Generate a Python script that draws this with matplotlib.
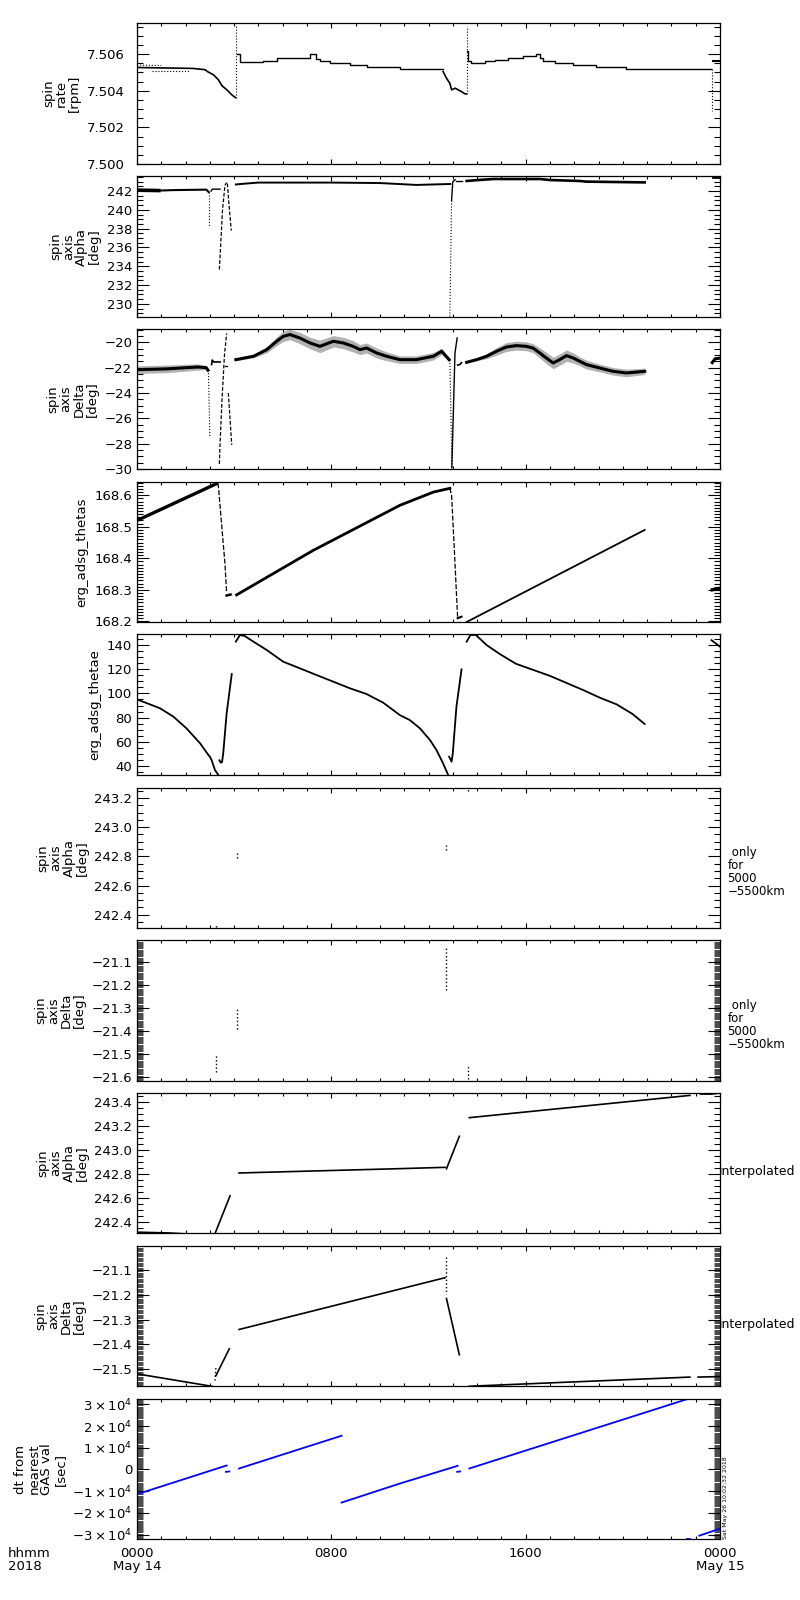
import matplotlib

matplotlib.use("Agg")
import matplotlib.pyplot as plt
from matplotlib.ticker import AutoMinorLocator, FuncFormatter, MultipleLocator


FIG_W_PX = 800
FIG_H_PX = 1600
AX_LEFT_PX = 137
AX_RIGHT_PX = 720
PANEL_EDGES_PX = [
    (23, 164), (176, 317), (329, 469), (482, 622), (634, 775),
    (788, 928), (940, 1081), (1093, 1233), (1246, 1386), (1399, 1539),
]
BLUE = "#0000ff"

# x values are hours after 0000 May 14

# ---- spin rate [rpm]
RATE_A_H = [0.0, 2.3, 2.8, 2.9, 3.15, 3.35, 3.5, 3.7, 3.9, 4.05]
RATE_A_V = [7.50527, 7.50522, 7.50515, 7.50505, 7.50487, 7.50460, 7.50427,
            7.50405, 7.50378, 7.50363]
RATE_A2_H = [0.0, 1.0]
RATE_A2_V = [7.50540, 7.50538]
RATE_A3_H = [0.6, 2.2]
RATE_A3_V = [7.50510, 7.50510]
RATE_SPIKE1_H = [4.08, 4.08]
RATE_SPIKE1_V = [7.50363, 7.50755]
RATE_B_H = [4.12, 4.24, 5.2, 5.75, 7.12, 7.35, 7.53, 7.94, 8.77, 9.45, 10.82, 12.6]
RATE_B_V = [7.50600, 7.50557, 7.50564, 7.50578, 7.50600, 7.50575, 7.50560,
            7.50551, 7.50540, 7.50527, 7.50518, 7.50518]
RATE_C_H = [12.6, 12.74, 12.88, 12.95, 13.1, 13.35, 13.5, 13.55]
RATE_C_V = [7.50505, 7.50469, 7.50440, 7.50405, 7.50414, 7.50396, 7.50383, 7.50383]
RATE_SPIKE2_H = [13.57, 13.57]
RATE_SPIKE2_V = [7.50383, 7.50755]
RATE_D_H = [13.6, 13.63, 13.77, 14.32, 14.73, 15.28, 15.87, 16.42, 16.59, 16.72,
            17.2, 17.96, 18.88, 20.11, 23.65]
RATE_D_V = [7.50615, 7.50564, 7.50551, 7.50562, 7.50568, 7.50578, 7.50589,
            7.50602, 7.50580, 7.50564, 7.50551, 7.50540, 7.50529, 7.50518, 7.50518]
RATE_DIP_H = [23.68, 23.68]
RATE_DIP_V = [7.50518, 7.50290]
RATE_E_H = [23.72, 24.0]
RATE_E_V = [7.50564, 7.50564]

# ---- spin axis Alpha [deg]
ALPHA_A_H = [0.0, 0.9, 1.5, 2.85, 2.95]
ALPHA_A_V = [242.1, 242.05, 242.1, 242.15, 241.9]
ALPHA_DIP1_H = [2.98, 2.98]
ALPHA_DIP1_V = [241.9, 238.2]
ALPHA_B_H = [3.05, 3.1, 3.42]
ALPHA_B_V = [242.0, 242.2, 242.2]
ALPHA_DIP2_H = [3.39, 3.44, 3.52, 3.62, 3.68]
ALPHA_DIP2_V = [233.65, 236.0, 240.0, 242.6, 242.9]
ALPHA_DROP_H = [3.72, 3.78, 3.88]
ALPHA_DROP_V = [242.8, 240.8, 237.8]
ALPHA_C_H = [4.07, 4.5, 5.0, 8.0, 10.0, 11.5, 12.9]
ALPHA_C_V = [242.7, 242.8, 242.9, 242.9, 242.85, 242.65, 242.75]
ALPHA_DIP3_H = [12.88, 12.95]
ALPHA_DIP3_V = [228.65, 241.0]
ALPHA_RISE_H = [12.95, 13.0, 13.1]
ALPHA_RISE_V = [241.0, 243.0, 243.2]
ALPHA_D_H = [13.15, 13.36]
ALPHA_D_V = [243.07, 243.07]
ALPHA_E_H = [13.57, 14.05, 14.66, 16.6, 17.0, 18.23, 18.5, 20.9]
ALPHA_E_V = [243.07, 243.17, 243.28, 243.28, 243.17, 243.07, 243.0, 242.92]
ALPHA_F_H = [23.7, 24.0]
ALPHA_F_V = [243.45, 243.45]

# ---- spin axis Delta [deg]  (noisy parts: centre and half spread)
DELTA_A_H = [0.0, 1.2, 2.5, 2.85, 2.92]
DELTA_A_V = [-22.16, -22.1, -21.95, -22.0, -22.2]
DELTA_A_W = [0.3, 0.3, 0.25, 0.15, 0.1]
DELTA_DIP1_H = [2.94, 2.97, 3.0]
DELTA_DIP1_V = [-22.2, -25.0, -27.55]
DELTA_B_H = [3.07, 3.1, 3.15, 3.42]
DELTA_B_V = [-21.75, -21.4, -21.55, -21.55]
DELTA_DIP2_H = [3.39, 3.42, 3.5, 3.6, 3.69]
DELTA_DIP2_V = [-29.6, -28.0, -24.5, -21.0, -19.3]
DELTA_HOOK1_H = [3.62, 3.69]
DELTA_HOOK1_V = [-21.9, -21.9]
DELTA_DROP_H = [3.76, 3.9]
DELTA_DROP_V = [-24.0, -28.1]
DELTA_C_H = [4.07, 4.8, 5.34, 5.75, 6.02, 6.3, 6.7, 7.12, 7.53, 8.08, 8.49, 8.9,
             9.18, 9.45, 9.86, 10.27, 10.82, 11.5, 12.2, 12.54, 12.85]
DELTA_C_V = [-21.37, -21.1, -20.58, -19.92, -19.53, -19.39, -19.66, -20.05, -20.32,
             -19.92, -20.05, -20.32, -20.58, -20.45, -20.84, -21.1, -21.37, -21.37,
             -21.1, -20.71, -21.37]
DELTA_C_W = [0.08, 0.12, 0.25, 0.35, 0.4, 0.4, 0.45, 0.45, 0.5, 0.45, 0.45, 0.45,
             0.4, 0.4, 0.4, 0.35, 0.3, 0.3, 0.3, 0.25, 0.15]
DELTA_DIP3_H = [12.88, 12.92, 12.96]
DELTA_DIP3_V = [-21.4, -25.3, -29.9]
DELTA_RISE_H = [12.96, 13.09, 13.18]
DELTA_RISE_V = [-29.9, -20.84, -19.66]
DELTA_HOOK2_H = [13.2, 13.3, 13.36]
DELTA_HOOK2_V = [-21.8, -21.75, -21.6]
DELTA_D_H = [13.57, 13.98, 14.39, 14.8, 15.21, 15.62, 16.03, 16.3, 16.58, 16.85,
             17.13, 17.4, 17.68, 17.96, 18.23, 18.5, 19.05, 19.6, 20.15, 20.9]
DELTA_D_V = [-21.58, -21.37, -21.1, -20.71, -20.37, -20.26, -20.32, -20.45, -20.84,
             -21.24, -21.63, -21.37, -21.05, -21.24, -21.5, -21.76, -22.03, -22.29,
             -22.42, -22.29]
DELTA_D_W = [0.06, 0.08, 0.2, 0.3, 0.35, 0.35, 0.35, 0.35, 0.4, 0.45, 0.45, 0.45,
             0.45, 0.4, 0.35, 0.35, 0.3, 0.3, 0.3, 0.25]
DELTA_E_H = [23.68, 23.8, 24.0]
DELTA_E_V = [-21.6, -21.3, -21.25]

# ---- erg_adsg_thetas
THETAS_A_H = [0.0, 3.28]
THETAS_A_V = [168.52, 168.637]
THETAS_DROP1_H = [3.3, 3.35, 3.48, 3.62, 3.69]
THETAS_DROP1_V = [168.637, 168.63, 168.51, 168.384, 168.29]
THETAS_FOOT1_H = [3.69, 3.85]
THETAS_FOOT1_V = [168.282, 168.285]
THETAS_B_H = [4.1, 7.25, 10.82, 12.2, 12.88]
THETAS_B_V = [168.284, 168.425, 168.568, 168.61, 168.622]
THETAS_DROP2_H = [12.88, 12.95, 13.05, 13.14, 13.2]
THETAS_DROP2_V = [168.622, 168.6, 168.45, 168.305, 168.21]
THETAS_FOOT2_H = [13.2, 13.36]
THETAS_FOOT2_V = [168.21, 168.215]
THETAS_C_H = [13.57, 20.9]
THETAS_C_V = [168.198, 168.49]
THETAS_D_H = [23.68, 24.0]
THETAS_D_V = [168.30, 168.305]

# ---- erg_adsg_thetae
THETAE_A_H = [0.0, 0.95, 1.5, 2.04, 2.6, 2.94, 3.0, 3.07, 3.21, 3.35]
THETAE_A_V = [95.1, 87.7, 80.8, 71.1, 58.7, 49.1, 47.7, 45.0, 36.7, 32.6]
THETAE_B_H = [3.39, 3.45, 3.5, 3.55, 3.69, 3.9]
THETAE_B_V = [44.8, 42.8, 43.2, 50.5, 83.5, 116.0]
THETAE_C_H = [4.07, 4.24, 4.44, 4.79, 5.34, 6.02, 6.71, 7.39, 8.08, 8.77, 9.45,
              10.14, 10.82, 11.23, 11.65, 12.06, 12.33, 12.6, 12.81]
THETAE_C_V = [142.8, 148.3, 147.4, 142.8, 135.9, 126.2, 120.7, 115.2, 109.7, 104.2,
              99.5, 92.3, 82.1, 78.0, 71.1, 61.5, 53.2, 42.2, 32.6]
THETAE_D_H = [12.85, 12.95, 13.0, 13.15, 13.36]
THETAE_D_V = [47.7, 43.6, 50.5, 89.0, 119.9]
THETAE_E_H = [13.57, 13.73, 13.95, 14.39, 14.94, 15.6, 16.3, 17.0, 17.7, 18.4,
              19.05, 19.74, 20.4, 20.9]
THETAE_E_V = [142.8, 148.3, 148.3, 140.0, 132.5, 124.5, 119.5, 114.5, 108.5, 102.5,
              96.5, 91.0, 83.0, 74.7]
THETAE_F_H = [23.65, 24.0]
THETAE_F_V = [144.0, 138.6]

# ---- spin axis Alpha / Delta, only for 5000-5500km (short vertical runs)
ALPHA_ONLY_H = [3.25, 4.13, 12.72, 13.63]
ALPHA_ONLY_LO = [242.318, 242.79, 242.84, 243.25]
ALPHA_ONLY_HI = [242.33, 242.82, 242.88, 243.27]
DELTA_ONLY_H = [3.25, 4.13, 12.72, 13.63]
DELTA_ONLY_LO = [-21.58, -21.39, -21.22, -21.61]
DELTA_ONLY_HI = [-21.50, -21.30, -21.04, -21.55]

# ---- spin axis Alpha, interpolated
ALPHA_INT_A_H = [0.0, 1.36, 3.18, 3.83]
ALPHA_INT_A_V = [242.318, 242.311, 242.29, 242.62]
ALPHA_INT_B_H = [4.2, 10.82, 12.68]
ALPHA_INT_B_V = [242.81, 242.846, 242.857]
ALPHA_INT_C_H = [12.74, 13.27]
ALPHA_INT_C_V = [242.845, 243.115]
ALPHA_INT_D_H = [13.68, 22.76]
ALPHA_INT_D_V = [243.27, 243.455]
ALPHA_INT_E_H = [23.2, 23.65, 24.0]
ALPHA_INT_E_V = [243.466, 243.466, 243.475]

# ---- spin axis Delta, interpolated
DELTA_INT_A_H = [0.0, 3.07, 3.2]
DELTA_INT_A_V = [-21.519, -21.569, -21.572]
DELTA_INT_DOT1_H = [3.21, 3.25]
DELTA_INT_DOT1_V = [-21.546, -21.49]
DELTA_INT_B_H = [3.25, 3.8]
DELTA_INT_B_V = [-21.526, -21.418]
DELTA_INT_C_H = [4.2, 12.68]
DELTA_INT_C_V = [-21.34, -21.131]
DELTA_INT_DOT2_H = [12.72, 12.72]
DELTA_INT_DOT2_V = [-21.046, -21.195]
DELTA_INT_D_H = [12.74, 13.27]
DELTA_INT_D_V = [-21.215, -21.442]
DELTA_INT_E_H = [13.68, 22.76]
DELTA_INT_E_V = [-21.569, -21.532]
DELTA_INT_F_H = [23.1, 24.0]
DELTA_INT_F_V = [-21.532, -21.530]

# ---- dt from nearest GAS val [sec]
DT_A_H = [0.0, 3.69]
DT_A_V = [-11385, 1846]
DT_B_H = [3.66, 3.8]
DT_B_V = [-1077, -900]
DT_C_H = [4.2, 8.42]
DT_C_V = [461, 15540]
DT_D_H = [8.42, 10.82, 13.2]
DT_D_V = [-15230, -6460, 1690]
DT_E_H = [13.18, 13.3]
DT_E_V = [-1077, -900]
DT_F_H = [13.68, 22.62]
DT_F_V = [460, 32300]
DT_G_H = [22.65, 22.75]
DT_G_V = [-31850, -31850]
DT_K_H = [23.15, 24.0]
DT_K_V = [-30460, -27230]

TIME_TICKS = [0, 8, 16, 24]
TIME_LABELS = ["0000\nMay 14", "0800", "1600", "0000\nMay 15"]

YLABELS = [
    "spin\nrate\n[rpm]",
    "spin\naxis\nAlpha\n[deg]",
    "spin\naxis\nDelta\n[deg]",
    "erg_adsg_thetas",
    "erg_adsg_thetae",
    "spin\naxis\nAlpha\n[deg]",
    "spin\naxis\nDelta\n[deg]",
    "spin\naxis\nAlpha\n[deg]",
    "spin\naxis\nDelta\n[deg]",
    "dt from\nnearest\nGAS val\n[sec]",
]
YLIMS = [
    (7.500, 7.5077), (228.6, 243.6), (-30.0, -18.95), (168.198, 168.642),
    (32.6, 149.1), (242.309, 243.268), (-21.619, -21.003), (242.311, 243.475),
    (-21.568, -21.003), (-32000, 32460),
]
Y_MAJOR = [0.002, 2, 2, 0.1, 20, 0.2, 0.1, 0.2, 0.1, 10000]
Y_MINOR_N = [4, 4, 4, 10, 4, 4, 20, 4, 20, 20]
Y_FORMATS = ["%.3f", "%d", "%d", "%.1f", "%d", "%.1f", "%.1f", "%.1f", "%.1f", None]


def panel_rect(top, bottom):
    return [
        AX_LEFT_PX / FIG_W_PX,
        1 - bottom / FIG_H_PX,
        (AX_RIGHT_PX - AX_LEFT_PX) / FIG_W_PX,
        (bottom - top) / FIG_H_PX,
    ]


def dt_label(value, pos):
    n = int(round(value / 10000))
    if n == 0:
        return "0"
    return r"$%d\times10^{4}$" % n


def style_axis(ax, i):
    ax.set_xlim(0, 24)
    ax.set_ylim(*YLIMS[i])
    ax.xaxis.set_major_locator(MultipleLocator(8))
    ax.xaxis.set_minor_locator(MultipleLocator(1))
    ax.yaxis.set_major_locator(MultipleLocator(Y_MAJOR[i]))
    ax.yaxis.set_minor_locator(AutoMinorLocator(Y_MINOR_N[i]))
    if Y_FORMATS[i] is None:
        ax.yaxis.set_major_formatter(FuncFormatter(dt_label))
    else:
        fmt = Y_FORMATS[i]
        ax.yaxis.set_major_formatter(
            FuncFormatter(lambda v, p, f=fmt: (f % v).replace("-", "\u2212"))
        )
    ax.tick_params(which="both", direction="in", top=True, right=True,
                   width=0.8, labelsize=9.5)
    ax.tick_params(axis="y", which="major", length=8.5, pad=9 if i == 0 else 3.5)
    ax.tick_params(axis="y", which="minor", length=4.3,
                   width=0.5 if Y_MINOR_N[i] >= 20 else 0.8)
    ax.tick_params(axis="x", which="major", length=3.5, pad=6)
    ax.tick_params(axis="x", which="minor", length=2)
    for spine in ax.spines.values():
        spine.set_linewidth(0.9)
    ax.set_ylabel(YLABELS[i], fontsize=9.5, multialignment="center",
                  linespacing=1.0, labelpad=4)
    if i < 9:
        ax.tick_params(axis="x", labelbottom=False)
    else:
        ax.set_xticks(TIME_TICKS)
        ax.set_xticklabels(TIME_LABELS, fontsize=9.5, linespacing=0.95)


def draw_spin_rate(ax):
    ax.plot(RATE_A_H, RATE_A_V, color="k", lw=1.2)
    ax.plot(RATE_A2_H, RATE_A2_V, color="k", lw=0.8, ls=":")
    ax.plot(RATE_A3_H, RATE_A3_V, color="k", lw=0.8, ls=":")
    ax.plot(RATE_SPIKE1_H, RATE_SPIKE1_V, color="k", lw=0.8, ls=":")
    ax.step(RATE_B_H, RATE_B_V, where="post", color="k", lw=1.0)
    ax.plot(RATE_C_H, RATE_C_V, color="k", lw=1.2)
    ax.plot(RATE_SPIKE2_H, RATE_SPIKE2_V, color="k", lw=0.8, ls=":")
    ax.step(RATE_D_H, RATE_D_V, where="post", color="k", lw=1.0)
    ax.plot(RATE_DIP_H, RATE_DIP_V, color="k", lw=0.8, ls=":")
    ax.plot(RATE_E_H, RATE_E_V, color="k", lw=1.5)


def draw_alpha(ax):
    ax.plot(ALPHA_A_H[:2], ALPHA_A_V[:2], color="k", lw=2.6)
    ax.plot(ALPHA_A_H, ALPHA_A_V, color="k", lw=1.5)
    ax.plot(ALPHA_DIP1_H, ALPHA_DIP1_V, color="k", lw=0.8, ls=":")
    ax.plot(ALPHA_B_H, ALPHA_B_V, color="k", lw=1.0)
    ax.plot(ALPHA_DIP2_H, ALPHA_DIP2_V, color="k", lw=0.9, ls=(0, (3, 1.5)))
    ax.plot(ALPHA_DROP_H, ALPHA_DROP_V, color="k", lw=0.9, ls=(0, (3, 1.5)))
    ax.plot(ALPHA_C_H, ALPHA_C_V, color="k", lw=1.4)
    ax.plot(ALPHA_DIP3_H, ALPHA_DIP3_V, color="k", lw=0.8, ls=":")
    ax.plot(ALPHA_RISE_H, ALPHA_RISE_V, color="k", lw=1.0)
    ax.plot(ALPHA_D_H, ALPHA_D_V, color="k", lw=1.0)
    ax.plot(ALPHA_E_H, ALPHA_E_V, color="k", lw=1.9)
    ax.plot(ALPHA_F_H, ALPHA_F_V, color="k", lw=2.0)


def band(ax, hours, centre, spread, core_lw):
    lo = [c - w for c, w in zip(centre, spread)]
    hi = [c + w for c, w in zip(centre, spread)]
    ax.fill_between(hours, lo, hi, color="k", alpha=0.3, lw=0)
    ax.plot(hours, centre, color="k", lw=core_lw)


def draw_delta(ax):
    band(ax, DELTA_A_H, DELTA_A_V, DELTA_A_W, 2.2)
    ax.plot(DELTA_DIP1_H, DELTA_DIP1_V, color="k", lw=0.8, ls=":")
    ax.plot(DELTA_B_H, DELTA_B_V, color="k", lw=1.2)
    ax.plot(DELTA_DIP2_H, DELTA_DIP2_V, color="k", lw=0.9, ls=(0, (3, 1.5)))
    ax.plot(DELTA_HOOK1_H, DELTA_HOOK1_V, color="k", lw=0.9)
    ax.plot(DELTA_DROP_H, DELTA_DROP_V, color="k", lw=0.9, ls=(0, (3, 1.5)))
    band(ax, DELTA_C_H, DELTA_C_V, DELTA_C_W, 2.2)
    ax.plot(DELTA_DIP3_H, DELTA_DIP3_V, color="k", lw=0.8, ls=":")
    ax.plot(DELTA_RISE_H, DELTA_RISE_V, color="k", lw=1.0)
    ax.plot(DELTA_HOOK2_H, DELTA_HOOK2_V, color="k", lw=1.2)
    band(ax, DELTA_D_H, DELTA_D_V, DELTA_D_W, 2.2)
    ax.plot(DELTA_E_H, DELTA_E_V, color="k", lw=2.2)


def draw_thetas(ax):
    ax.plot(THETAS_A_H, THETAS_A_V, color="k", lw=2.4)
    ax.plot(THETAS_DROP1_H, THETAS_DROP1_V, color="k", lw=0.9, ls=(0, (4, 1.5)))
    ax.plot(THETAS_FOOT1_H, THETAS_FOOT1_V, color="k", lw=1.8)
    ax.plot(THETAS_B_H, THETAS_B_V, color="k", lw=2.0)
    ax.plot(THETAS_DROP2_H, THETAS_DROP2_V, color="k", lw=0.9, ls=(0, (4, 1.5)))
    ax.plot(THETAS_FOOT2_H, THETAS_FOOT2_V, color="k", lw=1.5)
    ax.plot(THETAS_C_H, THETAS_C_V, color="k", lw=1.3)
    ax.plot(THETAS_D_H, THETAS_D_V, color="k", lw=2.4)


def draw_thetae(ax):
    for hours, values in [
        (THETAE_A_H, THETAE_A_V), (THETAE_B_H, THETAE_B_V),
        (THETAE_C_H, THETAE_C_V), (THETAE_D_H, THETAE_D_V),
        (THETAE_E_H, THETAE_E_V), (THETAE_F_H, THETAE_F_V),
    ]:
        ax.plot(hours, values, color="k", lw=1.3)


def draw_only(ax, hours, lo, hi):
    ax.vlines(hours, lo, hi, color="k", lw=1.0, linestyles=":")


def draw_alpha_interp(ax):
    for hours, values in [
        (ALPHA_INT_A_H, ALPHA_INT_A_V), (ALPHA_INT_B_H, ALPHA_INT_B_V),
        (ALPHA_INT_C_H, ALPHA_INT_C_V), (ALPHA_INT_D_H, ALPHA_INT_D_V),
        (ALPHA_INT_E_H, ALPHA_INT_E_V),
    ]:
        ax.plot(hours, values, color="k", lw=1.2)


def draw_delta_interp(ax):
    for hours, values in [
        (DELTA_INT_A_H, DELTA_INT_A_V), (DELTA_INT_B_H, DELTA_INT_B_V),
        (DELTA_INT_C_H, DELTA_INT_C_V), (DELTA_INT_D_H, DELTA_INT_D_V),
        (DELTA_INT_E_H, DELTA_INT_E_V), (DELTA_INT_F_H, DELTA_INT_F_V),
    ]:
        ax.plot(hours, values, color="k", lw=1.2)
    ax.plot(DELTA_INT_DOT1_H, DELTA_INT_DOT1_V, color="k", lw=1.0, ls=":")
    ax.plot(DELTA_INT_DOT2_H, DELTA_INT_DOT2_V, color="k", lw=1.0, ls=":")


def draw_dt(ax):
    for hours, values in [
        (DT_A_H, DT_A_V), (DT_B_H, DT_B_V), (DT_C_H, DT_C_V), (DT_D_H, DT_D_V),
        (DT_E_H, DT_E_V), (DT_F_H, DT_F_V), (DT_G_H, DT_G_V), (DT_K_H, DT_K_V),
    ]:
        ax.plot(hours, values, color=BLUE, lw=1.3)


def main():
    plt.rcParams["font.family"] = ["DejaVu Sans"]
    plt.rcParams["axes.unicode_minus"] = True

    fig = plt.figure(figsize=(FIG_W_PX / 100, FIG_H_PX / 100), dpi=100)
    axes = [fig.add_axes(panel_rect(t, b)) for t, b in PANEL_EDGES_PX]

    draw_spin_rate(axes[0])
    draw_alpha(axes[1])
    draw_delta(axes[2])
    draw_thetas(axes[3])
    draw_thetae(axes[4])
    draw_only(axes[5], ALPHA_ONLY_H, ALPHA_ONLY_LO, ALPHA_ONLY_HI)
    draw_only(axes[6], DELTA_ONLY_H, DELTA_ONLY_LO, DELTA_ONLY_HI)
    draw_alpha_interp(axes[7])
    draw_delta_interp(axes[8])
    draw_dt(axes[9])

    for i, ax in enumerate(axes):
        style_axis(ax, i)

    for ax in (axes[5], axes[6]):
        ax.text(1.013, 0.40, " only\nfor\n5000\n\u22125500km", transform=ax.transAxes,
                ha="left", va="center", fontsize=8.5, linespacing=1.0)
    for ax in (axes[7], axes[8]):
        ax.text(0.998, 0.44, "interpolated", transform=ax.transAxes,
                ha="left", va="center", fontsize=9)
    axes[9].text(1.006, 0.0, "Sat May 26 10:02:32 2018", transform=axes[9].transAxes,
                 ha="left", va="bottom", rotation=90, fontsize=4.5)

    fig.text(8 / FIG_W_PX, 1 - 1547 / FIG_H_PX, "hhmm\n2018", ha="left", va="top",
             fontsize=9.5, linespacing=0.95)

    fig.savefig("out.png", dpi=100)
    plt.close(fig)


if __name__ == "__main__":
    main()
